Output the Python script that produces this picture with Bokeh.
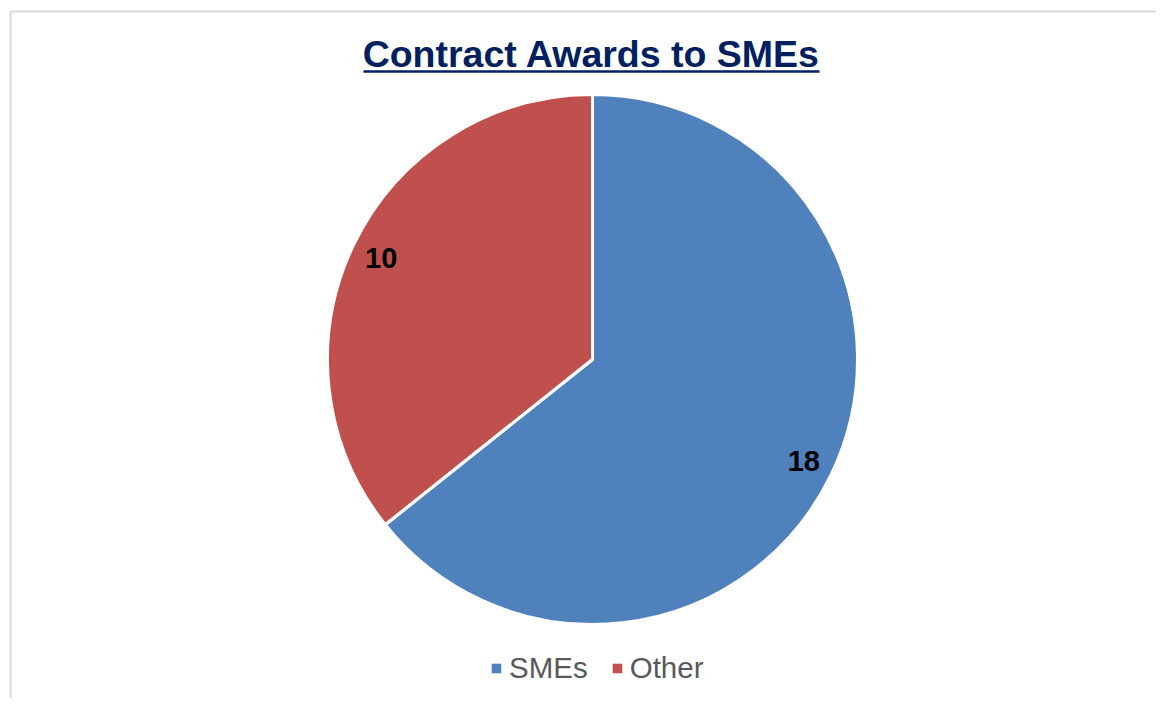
import numpy as np
from bokeh.plotting import figure
from bokeh.models import ColumnDataSource, Range1d, Legend, LegendItem
from bokeh.core.properties import value
from bokeh.embed import file_html
from bokeh.resources import INLINE

# ---- data ----
categories = ["SMEs", "Other"]
counts = [18, 10]
colors = ["#4F81BD", "#C0504D"]
title_text = "Contract Awards to SMEs"

FONT = "Liberation Sans"
W, H = 1156, 698
TOP = 706  # data y of the top edge of the canvas
p = figure(width=W, height=H, x_range=Range1d(0, W), y_range=Range1d(TOP - H, TOP),
           output_backend="svg", toolbar_location=None, min_border=0)
p.axis.visible = False
p.grid.visible = False
p.outline_line_color = None
p.background_fill_color = "white"
p.border_fill_color = "white"

# chart border (only top/left visible in window)
p.line(x=[10, 10, W], y=[TOP - H, TOP - 11, TOP - 11], line_color="#D9D9D9", line_width=2)

cx, cy, R = 592, TOP - 359, 265
total = sum(counts)
fracs = np.array(counts) / total
ends = np.cumsum(fracs) * 2 * np.pi
starts = ends - fracs * 2 * np.pi
start_angle = np.pi / 2 - starts
end_angle = np.pi / 2 - ends
mid = np.pi / 2 - (starts + ends) / 2
lr = 0.885 * R
src = ColumnDataSource(dict(
    cat=categories, val=counts, color=colors,
    start=start_angle, end=end_angle,
    lx=cx + lr * np.cos(mid), ly=cy + lr * np.sin(mid),
    label=[str(v) for v in counts],
))

r_fill = p.wedge(x=cx, y=cy, radius=R, start_angle="start", end_angle="end",
                 direction="clock", fill_color="color", line_color=None, source=src)
p.wedge(x=cx, y=cy, radius=R, start_angle="start", end_angle="end",
        direction="clock", fill_color=None, line_color="white", line_width=3, source=src)

p.text(x="lx", y="ly", text="label", source=src, text_align="center",
       text_baseline="middle", text_font=value(FONT), text_font_style="bold",
       text_font_size="29px", text_color="black")

# title with underline
tx = 591
p.text(x=[tx], y=[TOP - 53], text=[title_text], text_align="center",
       text_baseline="alphabetic", text_font=value(FONT), text_font_style="bold",
       text_font_size="37.5px", text_color="#002060")
p.segment(x0=[tx - 228], x1=[tx + 228], y0=[TOP - 71], y1=[TOP - 71],
          line_color="#002060", line_width=2.5)

items = [LegendItem(label=c, renderers=[r_fill], index=i) for i, c in enumerate(categories)]
legend = Legend(items=items, orientation="horizontal", location=(490, 13),
                glyph_width=12, glyph_height=12, label_standoff=7, spacing=23,
                label_text_font=FONT, label_text_font_size="29.5px",
                label_text_color="#595959", border_line_color=None,
                background_fill_alpha=0, padding=0, margin=0)
p.add_layout(legend)

open("out.html", "w").write(file_html(p, INLINE))
